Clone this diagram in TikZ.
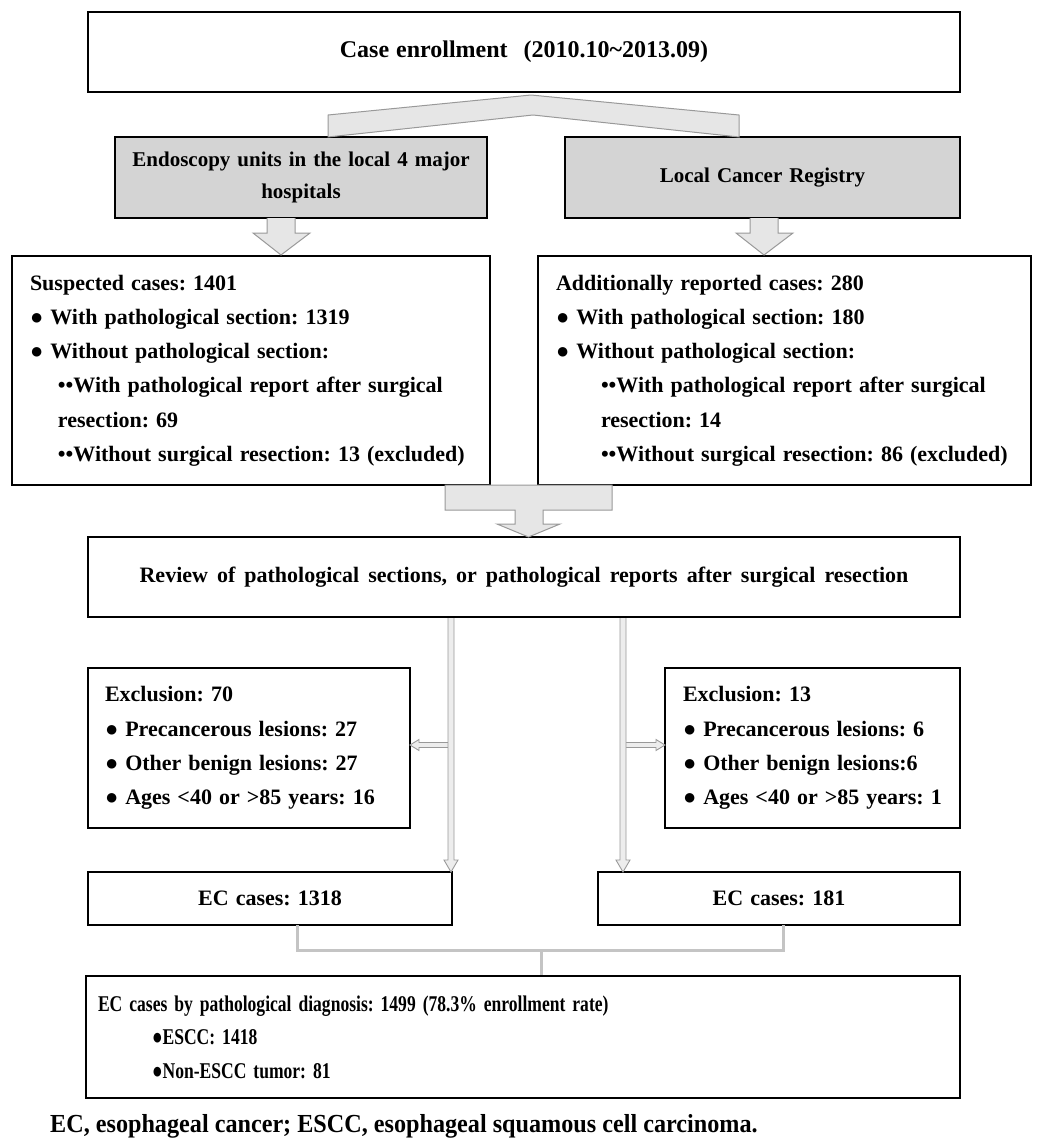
\documentclass[tikz,border=0pt]{standalone}
\usepackage{fontspec}
\setmainfont{Liberation Serif}
\newfontfamily\condfont[FakeStretch=0.78]{Liberation Serif}
\newfontfamily\notefont[FakeStretch=0.93]{Liberation Serif}
\usetikzlibrary{calc}
\definecolor{boxgray}{HTML}{D4D4D4}
\definecolor{arrfill}{HTML}{E6E6E6}
\definecolor{arredge}{HTML}{999999}
\definecolor{brk}{HTML}{C4C4C4}
\newcommand\Lne[1]{\mbox{#1}}
\newcommand\widesp{\spaceskip=7pt plus 1pt minus 1pt\relax}
\newcommand\widersp{\spaceskip=9pt plus 1pt minus 1pt\relax}
\frenchspacing
\begin{document}
\begin{tikzpicture}[x=1pt,y=-1pt,
  txt/.style={font=\bfseries\fontsize{22}{34.2}\selectfont, execute at begin node=\widesp},
  box/.style={draw=black, line width=2pt, rectangle, inner sep=0pt, outer sep=0pt, txt},
  graybox/.style={box, fill=boxgray},
  blk/.style={fill=arrfill, draw=arredge, line width=1pt, line join=miter},
  thinarr/.style={fill=arrfill!70, draw=arredge, line width=0.9pt},
  bracket/.style={draw=brk, line width=3pt}]
\useasboundingbox (0,0) rectangle (1043,1141);

% boxes
\node[box, minimum width=872pt, minimum height=80pt,
  font=\bfseries\fontsize{24}{28}\selectfont] (top) at (524,52)
  {Case enrollment\hspace{16pt}(2010.10\textasciitilde2013.09)};
\node[graybox, minimum width=372pt, minimum height=81pt, align=center,
  font=\bfseries\fontsize{21}{32}\selectfont] (gl) at (301,177.5)
  {Endoscopy units in the local 4 major\\hospitals};
\node[graybox, minimum width=395pt, minimum height=81pt,
  font=\bfseries\fontsize{21}{32}\selectfont] (gr) at (762.5,177.5)
  {Local Cancer Registry};

\node[box, minimum width=478pt, minimum height=229pt, text width=442pt, align=left] (sl) at (251,370.5)
  {\Lne{Suspected cases: 1401}\\
   \Lne{● With pathological section: 1319}\\
   \Lne{● Without pathological section:}\\
   \Lne{\hspace*{28pt}••With pathological report after surgical}\\
   \Lne{\hspace*{28pt}resection: 69}\\
   \Lne{\hspace*{28pt}••Without surgical resection: 13 (excluded)}};
\node[box, minimum width=493pt, minimum height=229pt, text width=457pt, align=left] (sr) at (784.5,370.5)
  {\Lne{Additionally reported cases: 280}\\
   \Lne{● With pathological section: 180}\\
   \Lne{● Without pathological section:}\\
   \Lne{\hspace*{45pt}••With pathological report after surgical}\\
   \Lne{\hspace*{45pt}resection: 14}\\
   \Lne{\hspace*{45pt}••Without surgical resection: 86 (excluded)}};

\node[box, minimum width=872pt, minimum height=80pt, execute at begin node=\widersp] (rev) at (524,577)
  {Review of pathological sections, or pathological reports after surgical resection};

\node[box, minimum width=322pt, minimum height=160pt, text width=288pt, align=left] (el) at (249,748)
  {\Lne{Exclusion: 70}\\
   \Lne{● Precancerous lesions: 27}\\
   \Lne{● Other benign lesions: 27}\\
   \Lne{● Ages <40 or >85 years: 16}};
\node[box, minimum width=295pt, minimum height=160pt, text width=259pt, align=left] (er) at (812.5,748)
  {\Lne{Exclusion: 13}\\
   \Lne{● Precancerous lesions: 6}\\
   \Lne{● Other benign lesions:6}\\
   \Lne{● Ages <40 or >85 years: 1}};

\node[box, minimum width=364pt, minimum height=53pt] (ecl) at (270,898.5) {EC cases: 1318};
\node[box, minimum width=362pt, minimum height=53pt] (ecr) at (779,898.5) {EC cases: 181};

\node[box, minimum width=874pt, minimum height=122pt, text width=850pt, align=left,
  font=\condfont\bfseries\fontsize{22.5}{33.5}\selectfont] (fin) at (523,1037)
  {\Lne{EC cases by pathological diagnosis: 1499 (78.3\% enrollment rate)}\\
   \Lne{\hspace*{54pt}●ESCC: 1418}\\
   \Lne{\hspace*{54pt}●Non-ESCC tumor: 81}};

\node[anchor=west, inner sep=0pt, font=\notefont\bfseries\fontsize{26}{30}\selectfont] (note) at (50,1126)
  {EC, esophageal cancer; ESCC, esophageal squamous cell carcinoma.};

% split chevron from top box to the two sources
\draw[blk] (328,137) -- (328,115) -- (531,95) -- (739,115) -- (739,137) -- (533,115) -- cycle;

% block arrows down to the count boxes
\draw[blk] (267,218) -- (267,233) -- (253,233) -- (281,255) -- (310,233) -- (295,233) -- (295,218);
\draw[blk] (750,218) -- (750,233) -- (736,233) -- (764,255) -- (793,233) -- (778,233) -- (778,218);

% merge arrow into review box
\draw[blk] (445,485) -- (612,485) -- (612,510) -- (543,510) -- (543,524) -- (560,524)
  -- (528.5,537) -- (497,524) -- (515,524) -- (515,510) -- (445,510) -- cycle;

% thin hollow arrows: branches to exclusion boxes
\draw[thinarr] (449,742.5) -- (419,742.5) -- (419,739.5) -- (410,745) -- (419,750.5) -- (419,747.5) -- (449,747.5);
\draw[thinarr] (625,742.5) -- (656,742.5) -- (656,739.5) -- (665,745) -- (656,750.5) -- (656,747.5) -- (625,747.5);
% thin hollow arrows: down to EC cases
\draw[thinarr] (448,618) -- (448,860) -- (444,860) -- (451,872) -- (458,860) -- (454,860) -- (454,618);
\draw[thinarr] (620,618) -- (620,860) -- (616,860) -- (623,872) -- (630,860) -- (626,860) -- (626,618);

% bracket joining EC cases into final box
\draw[bracket] (297,925) -- (297,950) -- (783,950) -- (783,925);
\draw[bracket] (541,950) -- (541,975);
\end{tikzpicture}
\end{document}
